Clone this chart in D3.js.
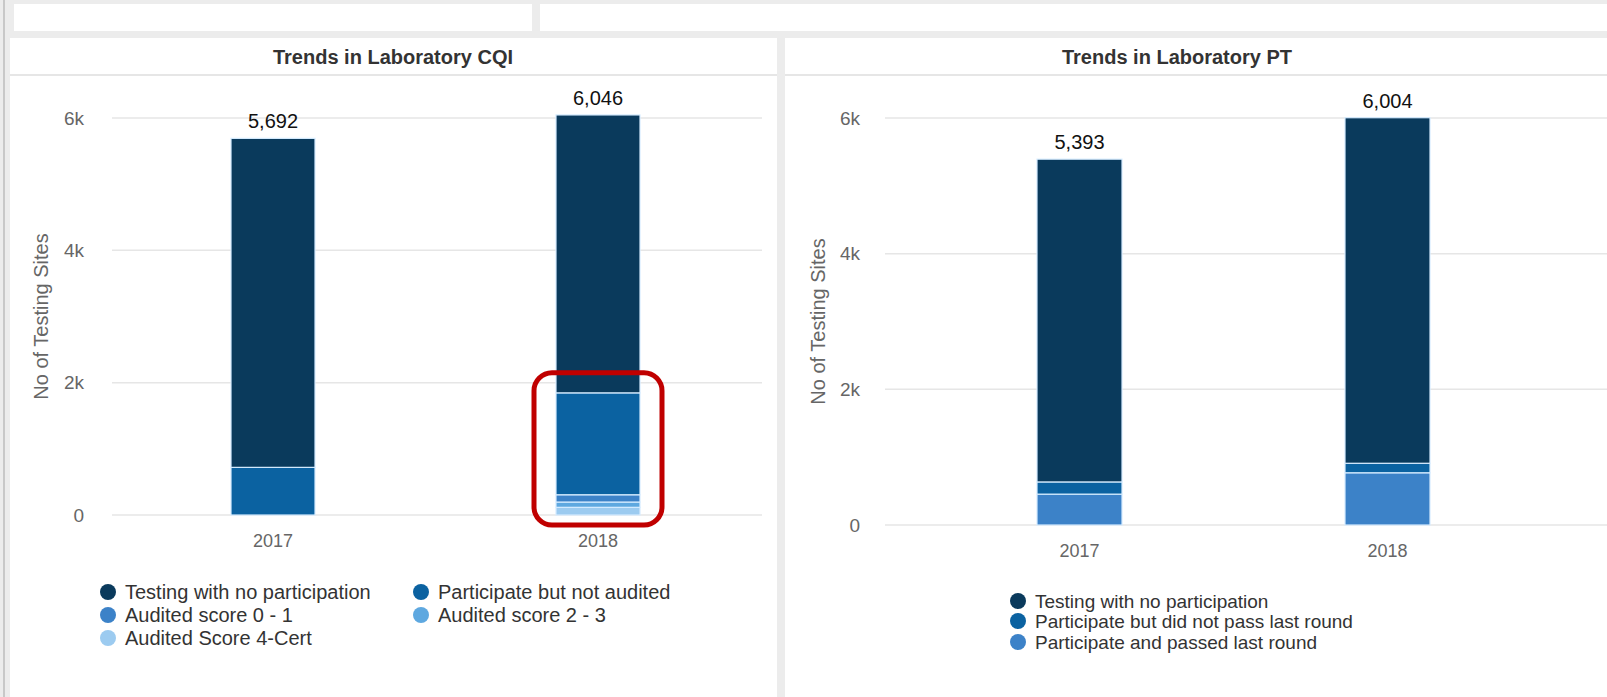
<!DOCTYPE html>
<html>
<head>
<meta charset="utf-8">
<script src="https://cdn.jsdelivr.net/npm/d3@7"></script>
<style>
  body { margin: 0; background: #ececec; }
  svg { display: block; font-family: "Liberation Sans", Arial, sans-serif; }
</style>
</head>
<body>
<script>
// 数据
var years = ['2017', '2018'];

var cqiSeries = ['Testing with no participation', 'Participate but not audited', 'Audited score 0 - 1', 'Audited score 2 - 3', 'Audited Score 4-Cert'];
var cqiNoParticipation = [4972, 4200];
var cqiNotAudited = [720, 1540];
var cqiScore01 = [0, 110];
var cqiScore23 = [0, 80];
var cqiScore4Cert = [0, 116];
var cqiTotals = [5692, 6046];

var ptSeries = ['Testing with no participation', 'Participate but did not pass last round', 'Participate and passed last round'];
var ptNoParticipation = [4758, 5094];
var ptNotPassed = [180, 140];
var ptPassed = [455, 770];
var ptTotals = [5393, 6004];

var yTicks = [0, 2000, 4000, 6000];
var yTickLabels = ['0', '2k', '4k', '6k'];

var cqiColors = ['#0a3a5c', '#0b62a1', '#3c82c8', '#5ea8e0', '#9ccbf0'];
var ptColors = ['#0a3a5c', '#0b62a1', '#3c82c8'];

var svg = d3.select('body')
  .append('svg')
  .attr('width', 1607)
  .attr('height', 697);

// 背景卡片
svg.append('rect').attr('x', 0).attr('y', 0).attr('width', 1607).attr('height', 697).attr('fill', '#ececec');
svg.append('rect').attr('x', 3).attr('y', 0).attr('width', 2).attr('height', 697).attr('fill', '#c8c8c8');
svg.append('rect').attr('x', 14).attr('y', 4).attr('width', 518).attr('height', 27).attr('fill', '#fff');
svg.append('rect').attr('x', 540).attr('y', 4).attr('width', 1067).attr('height', 27).attr('fill', '#fff');
svg.append('rect').attr('x', 10).attr('y', 38).attr('width', 767).attr('height', 660).attr('fill', '#fff');
svg.append('rect').attr('x', 785).attr('y', 38).attr('width', 822).attr('height', 660).attr('fill', '#fff');
svg.append('rect').attr('x', 10).attr('y', 74).attr('width', 767).attr('height', 2).attr('fill', '#e6e6e6');
svg.append('rect').attr('x', 785).attr('y', 74).attr('width', 822).attr('height', 2).attr('fill', '#e6e6e6');

function drawPanel(opt) {
  var g = svg.append('g');

  g.append('text')
    .attr('x', opt.titleX).attr('y', 57)
    .attr('dy', '0.35em')
    .attr('text-anchor', 'middle')
    .attr('font-size', 20).attr('font-weight', 'bold').attr('fill', '#333')
    .text(opt.title);

  var y = d3.scaleLinear().domain([0, 6000]).range(opt.yRange);
  var x = d3.scaleBand().domain(years).range(opt.xRange);

  // 网格线
  g.selectAll('line.grid')
    .data(yTicks)
    .enter().append('line')
    .attr('x1', opt.gridX[0]).attr('x2', opt.gridX[1])
    .attr('y1', d => y(d)).attr('y2', d => y(d))
    .attr('stroke', '#e6e6e6').attr('stroke-width', 1.5);

  // y轴刻度
  g.selectAll('text.ytick')
    .data(yTicks)
    .enter().append('text')
    .attr('x', opt.tickX).attr('y', d => y(d))
    .attr('dy', '0.35em')
    .attr('text-anchor', 'end')
    .attr('font-size', 19).attr('fill', '#666')
    .text((d, i) => yTickLabels[i]);

  g.append('text')
    .attr('transform', `translate(${opt.axisTitleX},${(opt.yRange[0] + opt.yRange[1]) / 2}) rotate(-90)`)
    .attr('dy', '0.35em')
    .attr('text-anchor', 'middle')
    .attr('font-size', 20).attr('fill', '#666')
    .text('No of Testing Sites');

  // 堆叠数据：第一个系列在最上面
  var rows = years.map((yr, i) => {
    var r = { year: yr };
    opt.series.forEach((s, k) => { r[s] = opt.values[k][i]; });
    return r;
  });
  var stacked = d3.stack().keys(opt.series.slice().reverse())(rows);
  var color = d3.scaleOrdinal().domain(opt.series).range(opt.colors);

  var bw = opt.barWidth;
  g.selectAll('g.layer')
    .data(stacked)
    .enter().append('g')
    .attr('fill', d => color(d.key))
    .selectAll('rect')
    .data(d => d)
    .enter().append('rect')
    .attr('x', d => x(d.data.year) + x.bandwidth() / 2 - bw / 2)
    .attr('y', d => y(d[1]))
    .attr('width', bw)
    .attr('height', d => Math.max(0, y(d[0]) - y(d[1])))
    .attr('stroke', d => (d[1] - d[0]) > 0 ? '#d6ecff' : 'none')
    .attr('stroke-width', 1.2);

  // 总数标签
  g.selectAll('text.total')
    .data(opt.totals)
    .enter().append('text')
    .attr('x', (d, i) => x(years[i]) + x.bandwidth() / 2)
    .attr('y', d => y(d) - 17)
    .attr('dy', '0.35em')
    .attr('text-anchor', 'middle')
    .attr('font-size', 20).attr('fill', '#111')
    .text(d => d3.format(',')(d));

  // x轴类别
  g.selectAll('text.xcat')
    .data(years)
    .enter().append('text')
    .attr('x', d => x(d) + x.bandwidth() / 2)
    .attr('y', opt.yRange[0] + 26)
    .attr('dy', '0.35em')
    .attr('text-anchor', 'middle')
    .attr('font-size', 18).attr('fill', '#666')
    .text(d => d);

  // 图例
  opt.legend.forEach((item, k) => {
    var lg = g.append('g').attr('transform', `translate(${item[0]},${item[1]})`);
    lg.append('circle').attr('r', 8).attr('fill', opt.colors[k]);
    lg.append('text')
      .attr('x', 17).attr('dy', '0.35em')
      .attr('font-size', opt.legendSize).attr('fill', '#333')
      .text(opt.series[k]);
  });

  return { x: x, y: y };
}

var cqi = drawPanel({
  title: 'Trends in Laboratory CQI',
  titleX: 393,
  yRange: [515, 118],
  xRange: [110.5, 760.5],
  gridX: [112, 762],
  tickX: 84,
  axisTitleX: 41,
  barWidth: 84,
  series: cqiSeries,
  values: [cqiNoParticipation, cqiNotAudited, cqiScore01, cqiScore23, cqiScore4Cert],
  totals: cqiTotals,
  colors: cqiColors,
  legendSize: 20,
  legend: [[108, 592], [421, 592], [108, 615], [421, 615], [108, 638]]
});

drawPanel({
  title: 'Trends in Laboratory PT',
  titleX: 1177,
  yRange: [525, 118],
  xRange: [925.5, 1541.5],
  gridX: [885, 1607],
  tickX: 860,
  axisTitleX: 818,
  barWidth: 85,
  series: ptSeries,
  values: [ptNoParticipation, ptNotPassed, ptPassed],
  totals: ptTotals,
  colors: ptColors,
  legendSize: 19,
  legend: [[1018, 601], [1018, 621], [1018, 642]]
});

// 红色标注框
var bx = cqi.x('2018') + cqi.x.bandwidth() / 2;
svg.append('rect')
  .attr('x', bx - 64).attr('y', cqi.y(2000) - 10)
  .attr('width', 128).attr('height', cqi.y(0) - cqi.y(2000) + 20)
  .attr('rx', 18)
  .attr('fill', 'none')
  .attr('stroke', '#c00000')
  .attr('stroke-width', 5);
</script>
</body>
</html>
